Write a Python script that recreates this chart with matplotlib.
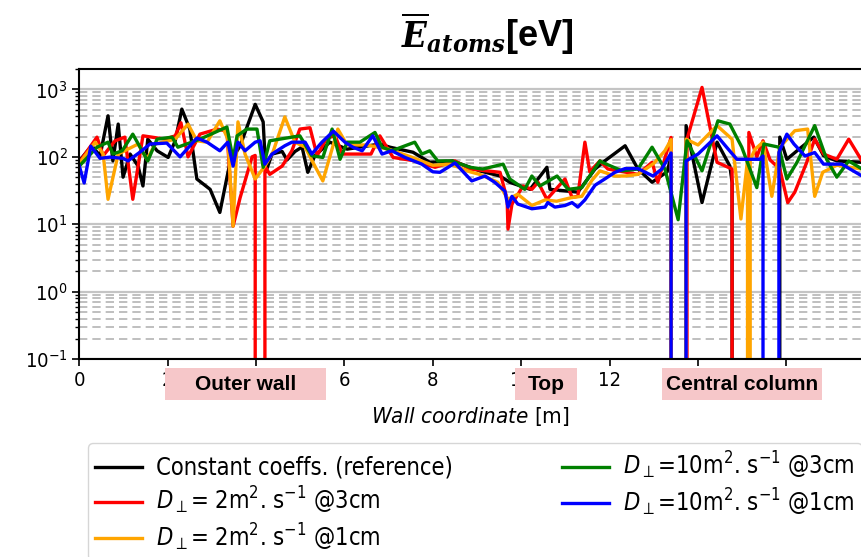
import matplotlib
matplotlib.use("Agg")
import matplotlib.pyplot as plt
import numpy as np
from matplotlib.patches import Rectangle
from matplotlib.ticker import LogLocator, NullFormatter

plt.rcParams['font.family'] = ['DejaVu Sans']
plt.rcParams['font.stretch'] = 'condensed'

# wall coordinate [m] / mean atom energy [eV] for each run, 0 = no flux (drops off the log axis)
x_ref = [0.0, 0.28, 0.47, 0.65, 0.76, 0.88, 0.99, 1.15, 1.33, 1.44, 1.55, 1.76, 2.01, 2.17, 2.32, 2.50,
         2.66, 2.96, 3.18, 3.41, 3.64, 3.98, 4.16, 4.22, 4.36, 4.59, 4.70, 4.88, 5.04, 5.17, 5.33, 5.67,
         6.06, 6.80, 7.03, 7.55, 7.93, 8.45, 9.06, 9.52, 9.74, 10.20, 10.58, 10.62, 10.65, 11.28, 11.67,
         11.89, 12.35, 12.64, 12.96, 13.30, 13.39, 13.41, 13.70, 13.73, 14.09, 14.43, 14.72, 14.77, 14.79,
         15.81, 15.85, 16.01, 16.24, 16.62, 16.84, 17.14, 17.71]
e_ref = [87, 146, 104, 406, 87, 306, 50, 110, 73, 37, 183, 123, 98, 173, 510, 258,
         47, 33, 15, 83, 146, 600, 330, 60, 110, 120, 90, 120, 140, 59, 104, 165,
         130, 155, 139, 117, 83, 87, 62, 52, 42, 33, 70, 45, 33, 30, 66,
         87, 146, 66, 42, 60, 100, 0, 0, 290, 21, 165, 73, 42, 0,
         0, 196, 92, 123, 196, 104, 87, 83]

x_d2_3cm = [0.0, 0.40, 0.54, 0.81, 1.03, 1.21, 1.44, 1.64, 1.94, 2.17, 2.30, 2.46, 2.73, 3.12, 3.34,
            3.48, 3.64, 3.91, 3.98, 4.02, 4.16, 4.20, 4.31, 4.59, 4.81, 4.99, 5.22, 5.38, 5.60, 5.79,
            5.95, 6.60, 6.80, 7.10, 7.60, 8.05, 8.50, 8.84, 9.52, 9.68, 9.70, 9.79, 10.04, 10.24, 10.38,
            10.58, 10.99, 11.15, 11.28, 11.44, 11.55, 11.67, 11.78, 11.96, 12.64, 12.96, 13.09, 13.39,
            13.41, 13.70, 13.75, 14.09, 14.43, 14.77, 14.79, 15.13, 15.15, 15.33, 15.47, 15.63, 15.85,
            16.03, 16.19, 16.46, 16.64, 16.84, 17.14, 17.41, 17.71]
e_d2_3cm = [83, 196, 104, 173, 196, 23.5, 205, 196, 183, 205, 320, 100, 217, 258, 240,
            9.4, 25, 100, 105, 0, 0, 73, 55, 73, 123, 258, 270, 104, 190, 205,
            110, 110, 205, 98, 87, 70, 87, 66, 59, 23.5, 8.5, 20, 37, 33, 42,
            23.5, 47, 25, 26, 165, 60, 73, 87, 66, 55, 83, 42, 194,
            0, 0, 183, 1070, 83, 66, 0, 0, 230, 100, 173, 90, 66,
            21, 30, 83, 183, 110, 92, 183, 87]

x_d2_1cm = [0.0, 0.36, 0.54, 0.65, 0.88, 1.33, 1.53, 1.72, 2.17, 2.46, 2.66, 2.89, 3.18, 3.36, 3.48,
            3.59, 3.75, 3.98, 4.20, 4.38, 4.65, 4.88, 5.11, 5.33, 5.51, 5.85, 6.06, 6.50, 7.00, 7.50,
            8.00, 8.40, 8.84, 9.06, 9.47, 9.70, 9.92, 10.24, 10.54, 10.80, 11.15, 11.37, 11.60, 11.78,
            12.12, 12.35, 12.64, 13.00, 13.25, 13.39, 13.41, 13.70, 13.73, 14.00, 14.43, 14.77, 14.97,
            15.12, 15.15, 15.18, 15.29, 15.47, 15.67, 15.85, 16.19, 16.48, 16.64, 16.82, 17.14, 17.71]
e_d2_1cm = [80, 165, 110, 23.5, 110, 155, 92, 155, 183, 306, 173, 165, 342, 183, 9.4,
            330, 110, 47, 73, 117, 390, 165, 139, 73, 44, 258, 150, 150, 130, 100,
            75, 78, 60, 55, 42, 23.5, 28, 19, 23, 22, 25, 26, 45, 62,
            52, 52, 55, 80, 123, 180, 0, 0, 183, 150, 290, 183, 12,
            90, 0, 90, 130, 165, 26, 139, 244, 258, 26, 59, 75, 66]

x_d10_3cm = [0.0, 0.40, 0.65, 0.76, 0.97, 1.21, 1.55, 1.76, 2.10, 2.23, 2.73, 3.34, 3.48, 3.57, 3.79,
             4.02, 4.16, 4.31, 4.99, 5.26, 5.51, 5.72, 5.90, 6.06, 6.35, 6.69, 6.85, 7.07, 7.59, 7.75,
             7.93, 8.11, 8.43, 8.84, 9.13, 9.59, 9.74, 10.08, 10.24, 10.42, 10.81, 11.06, 11.37, 11.78,
             11.83, 12.28, 12.64, 12.96, 13.25, 13.55, 13.75, 14.09, 14.45, 14.72, 14.99, 15.33, 15.49,
             15.83, 16.01, 16.24, 16.64, 16.91, 17.14, 17.41, 17.71]
e_d10_3cm = [73, 139, 165, 110, 123, 217, 87, 183, 196, 139, 183, 277, 92, 205, 258,
             258, 70, 173, 205, 104, 98, 258, 92, 165, 165, 230, 139, 123, 165, 110,
             123, 87, 87, 70, 66, 78, 47, 33, 52, 37, 52, 33, 35, 87,
             83, 62, 66, 139, 66, 11.7, 173, 62, 342, 306, 139, 35, 155,
             139, 47, 83, 290, 92, 50, 87, 66]

x_d10_1cm = [0.0, 0.11, 0.26, 0.47, 0.69, 0.99, 1.10, 1.37, 1.60, 1.98, 2.28, 2.66, 2.89, 3.18, 3.36,
             3.48, 3.59, 3.75, 3.98, 4.09, 4.20, 4.36, 4.65, 4.81, 5.11, 5.26, 5.49, 5.75, 6.01, 6.19,
             6.40, 6.64, 6.85, 7.07, 7.37, 7.75, 8.00, 8.16, 8.50, 8.88, 9.18, 9.40, 9.63, 9.70, 9.79,
             9.92, 10.24, 10.54, 10.60, 10.76, 10.99, 11.15, 11.28, 11.44, 11.67, 11.89, 12.12, 12.35,
             12.64, 12.98, 13.18, 13.39, 13.41, 13.70, 13.73, 14.00, 14.43, 14.65, 14.88, 15.40, 15.47,
             15.49, 15.81, 15.83, 16.01, 16.17, 16.42, 16.64, 16.84, 17.25, 17.71]
e_d10_1cm = [73, 41, 144, 95, 99, 95, 87, 117, 155, 160, 100, 190, 165, 123, 165,
             73, 165, 123, 165, 173, 78, 110, 146, 165, 165, 110, 165, 240, 165, 139,
             123, 205, 110, 123, 98, 78, 60, 59, 81, 44, 52, 42, 31, 18, 26,
             20, 17, 18, 21, 18, 19, 21, 18, 23, 38, 47, 59, 67,
             67, 52, 66, 114, 0, 0, 87, 110, 205, 138, 92, 92, 103,
             0, 0, 117, 217, 155, 103, 116, 78, 78, 52]

series = [(x_ref, e_ref), (x_d2_3cm, e_d2_3cm), (x_d2_1cm, e_d2_1cm),
          (x_d10_3cm, e_d10_3cm), (x_d10_1cm, e_d10_1cm)]
labels = ['Constant coeffs. (reference)',
          r'$D_\perp$= 2m$^2$. s$^{-1}$ @3cm',
          r'$D_\perp$= 2m$^2$. s$^{-1}$ @1cm',
          r'$D_\perp$=10m$^2$. s$^{-1}$ @3cm',
          r'$D_\perp$=10m$^2$. s$^{-1}$ @1cm']
colors = ['black', 'red', 'orange', 'green', 'blue']

# wall regions marked under the x axis
regions = ['Outer wall', 'Top', 'Central column']

fig = plt.figure(figsize=(8.62, 5.57), dpi=100)
ax = fig.add_axes([0.092, 0.355, 0.908, 0.521])

for (xs, ys), c, lab in zip(series, colors, labels):
    ax.plot(xs, ys, color=c, lw=2.4, label=lab)

ax.set_yscale('log')
ax.set_ylim(0.1, 2000)
ax.set_xlim(0, 17.71)
ax.set_xticks(np.arange(0, 18, 2))
ax.yaxis.set_minor_locator(LogLocator(base=10, subs=np.arange(2, 10)))
ax.yaxis.set_minor_formatter(NullFormatter())
ax.grid(which='major', axis='y', color='#c4c4c4', lw=1.6)
ax.grid(which='minor', axis='y', color='#b4b4b4', ls='--', lw=1.2, dashes=(5, 3))
ax.tick_params(which='major', labelsize=14.5, length=5, width=1.2)
ax.tick_params(which='minor', length=3, width=1)
ax.spines['right'].set_visible(False)
for s in ['left', 'bottom', 'top']:
    ax.spines[s].set_linewidth(1.5)
ax.set_xlabel(r'$\it{Wall\ coordinate}$ [m]', fontsize=16, labelpad=11)

fig.text(0.565, 0.94, r'$\overline{\mathbfit{E}}_{\mathbfit{atoms}}$[eV]', fontsize=26,
         fontweight='bold', family='Liberation Sans', math_fontfamily='dejavuserif',
         ha='center', va='center')

W, H = 862.0, 557.0
boxes = [(165, 326), (515, 577), (662, 822)]
for name, (x0, x1) in zip(regions, boxes):
    fig.add_artist(Rectangle((x0 / W, 1 - 400 / H), (x1 - x0) / W, 32 / H,
                             transform=fig.transFigure, facecolor='#f6c7c9',
                             edgecolor='none', zorder=2))
    fig.text((x0 + x1) / 2 / W, 1 - 384 / H, name, fontsize=15, fontweight='bold',
             family='Liberation Sans', ha='center', va='center', zorder=3)

ax.legend(loc='upper left', bbox_to_anchor=(88 / W, 1 - 443 / H), bbox_transform=fig.transFigure,
          borderaxespad=0, ncol=2, fontsize=17, handlelength=2.0, handletextpad=0.6,
          columnspacing=4.6, edgecolor='#cccccc', labelspacing=0.22, borderpad=0.3)

fig.savefig('out.png', dpi=100, facecolor='white')
